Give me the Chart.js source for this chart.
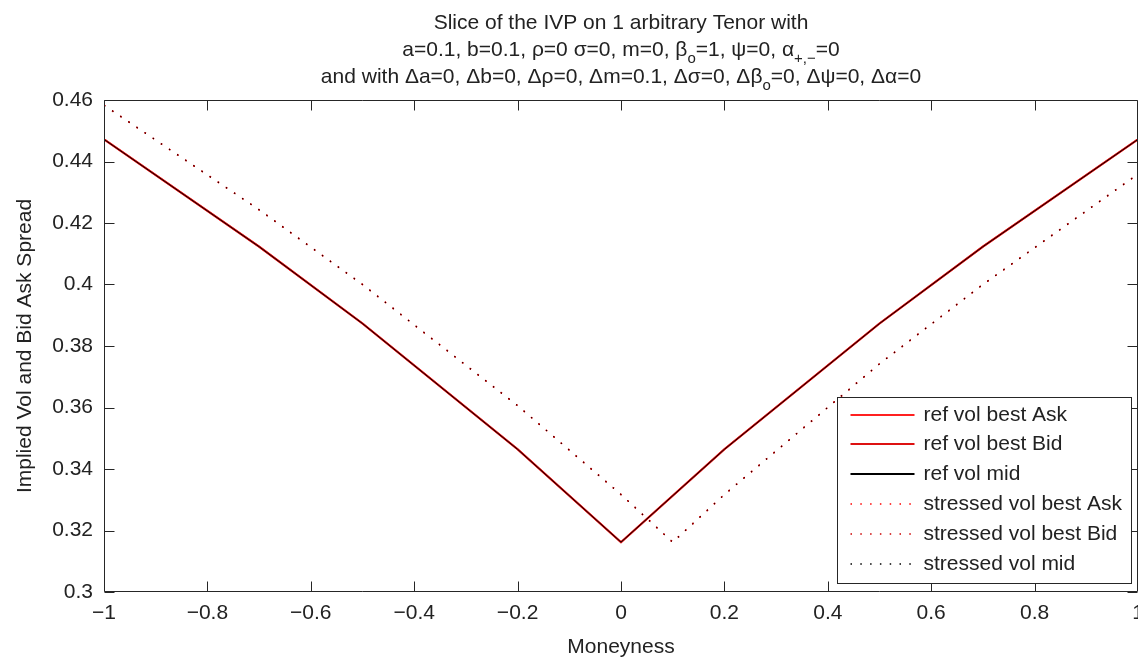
<!DOCTYPE html>
<html>
<head>
<meta charset="utf-8">
<title>Slice of the IVP</title>
<script src="https://cdn.jsdelivr.net/npm/chart.js@4.4.1/dist/chart.umd.min.js"></script>
<style>
  html, body { margin: 0; padding: 0; background: #fff; }
  #wrap { width: 1138px; height: 661px; }
</style>
</head>
<body>
<div id="wrap"><canvas id="ivpChart" width="1138" height="661"></canvas></div>
<script>
  // Data
  const refMoneyness = [-1, -0.7, -0.5, -0.2, 0, 0.2, 0.5, 0.7, 1];
  const refAsk = [0.4472, 0.4123, 0.3873, 0.3464, 0.3162, 0.3464, 0.3873, 0.4123, 0.4472];
  const refBid = [0.4472, 0.4123, 0.3873, 0.3464, 0.3162, 0.3464, 0.3873, 0.4123, 0.4472];
  const refMid = [0.4472, 0.4123, 0.3873, 0.3464, 0.3162, 0.3464, 0.3873, 0.4123, 0.4472];

  const stressedMoneyness = [-1, -0.7, -0.5, -0.2, 0, 0.1, 0.2, 0.5, 0.7, 1];
  const stressedAsk = [0.4583, 0.4243, 0.4000, 0.3606, 0.3317, 0.3162, 0.3317, 0.3742, 0.4000, 0.4359];
  const stressedBid = [0.4583, 0.4243, 0.4000, 0.3606, 0.3317, 0.3162, 0.3317, 0.3742, 0.4000, 0.4359];
  const stressedMid = [0.4583, 0.4243, 0.4000, 0.3606, 0.3317, 0.3162, 0.3317, 0.3742, 0.4000, 0.4359];

  const xTickValues = [-1, -0.8, -0.6, -0.4, -0.2, 0, 0.2, 0.4, 0.6, 0.8, 1];
  const xTickLabels = ['\u22121', '\u22120.8', '\u22120.6', '\u22120.4', '\u22120.2', '0', '0.2', '0.4', '0.6', '0.8', '1'];
  const yTickValues = [0.3, 0.32, 0.34, 0.36, 0.38, 0.4, 0.42, 0.44, 0.46];
  const yTickLabels = ['0.3', '0.32', '0.34', '0.36', '0.38', '0.4', '0.42', '0.44', '0.46'];

  const FONT = '"Liberation Sans", Arial, Helvetica, sans-serif';
  const INK = '#222';

  // title lines, with subscript parts
  const titleLines = [
    [{ t: 'Slice of the IVP on 1 arbitrary Tenor with' }],
    [{ t: 'a=0.1, b=0.1, \u03c1=0 \u03c3=0, m=0, \u03b2' }, { t: 'o', sub: true },
     { t: '=1, \u03c8=0, \u03b1' }, { t: '+,\u2212', sub: true }, { t: '=0' }],
    [{ t: 'and with \u0394a=0, \u0394b=0, \u0394\u03c1=0, \u0394m=0.1, \u0394\u03c3=0, \u0394\u03b2' }, { t: 'o', sub: true },
     { t: '=0, \u0394\u03c8=0, \u0394\u03b1=0' }]
  ];

  const pts = (xs, ys) => xs.map((x, i) => ({ x: x, y: ys[i] }));

  const titlePlugin = {
    id: 'richTitle',
    afterDraw(chart) {
      const ctx = chart.ctx;
      const cx = (chart.chartArea.left + chart.chartArea.right) / 2;
      const baselines = [29, 56, 83];
      ctx.save();
      ctx.fillStyle = INK;
      ctx.textBaseline = 'alphabetic';
      titleLines.forEach((parts, li) => {
        let w = 0;
        parts.forEach(p => {
          ctx.font = (p.sub ? '15px ' : '21px ') + FONT;
          w += ctx.measureText(p.t).width;
        });
        let x = cx - w / 2;
        parts.forEach(p => {
          ctx.font = (p.sub ? '15px ' : '21px ') + FONT;
          ctx.textAlign = 'left';
          ctx.fillText(p.t, x, baselines[li] + (p.sub ? 7 : 0));
          x += ctx.measureText(p.t).width;
        });
      });
      ctx.restore();
    }
  };

  // box round the axes, ticks pointing inward on all four sides
  const framePlugin = {
    id: 'frame',
    afterDatasetsDraw(chart) {
      const { ctx, chartArea: a, scales } = chart;
      const L = Math.round(a.left) + 0.5, R = Math.round(a.right) - 0.5;
      const T = Math.round(a.top) + 0.5, B = Math.round(a.bottom) - 0.5;
      const len = 10;
      ctx.save();
      ctx.strokeStyle = '#262626';
      ctx.lineWidth = 1;
      ctx.beginPath();
      ctx.rect(L, T, R - L, B - T);
      scales.x.ticks.forEach(t => {
        const px = Math.round(scales.x.getPixelForValue(t.value)) + 0.5;
        ctx.moveTo(px, B); ctx.lineTo(px, B - len);
        ctx.moveTo(px, T); ctx.lineTo(px, T + len);
      });
      scales.y.ticks.forEach(t => {
        const py = Math.round(scales.y.getPixelForValue(t.value)) + 0.5;
        ctx.moveTo(L, py); ctx.lineTo(L + len, py);
        ctx.moveTo(R, py); ctx.lineTo(R - len, py);
      });
      ctx.stroke();
      ctx.restore();
    }
  };

  // legend box in the lower right corner of the axes
  const legendPlugin = {
    id: 'boxLegend',
    afterDraw(chart) {
      const { ctx, chartArea: a } = chart;
      const bx = Math.round(a.right) - 301 + 0.5, by = Math.round(a.bottom) - 195 + 0.5;
      const bw = 294, bh = 186;
      ctx.save();
      ctx.fillStyle = '#fff';
      ctx.fillRect(bx, by, bw, bh);
      ctx.strokeStyle = '#262626';
      ctx.lineWidth = 1;
      ctx.strokeRect(bx, by, bw, bh);
      ctx.font = '21px ' + FONT;
      ctx.textBaseline = 'middle';
      ctx.textAlign = 'left';
      chart.data.datasets.forEach((ds, i) => {
        const y = Math.round(by + 17 + i * 29.8);
        ctx.beginPath();
        ctx.strokeStyle = ds.borderColor;
        ctx.lineWidth = ds.borderDash ? 1.5 : 2;
        ctx.setLineDash(ds.borderDash || []);
        ctx.moveTo(bx + 13, y);
        ctx.lineTo(bx + 77, y);
        ctx.stroke();
        ctx.setLineDash([]);
        ctx.fillStyle = INK;
        ctx.fillText(ds.label, bx + 86, y);
      });
      ctx.restore();
    }
  };

  const dots = [1.5, 8.3];

  new Chart(document.getElementById('ivpChart'), {
    type: 'line',
    data: {
      datasets: [
        { label: 'ref vol best Ask', data: pts(refMoneyness, refAsk), borderColor: '#ff2020', borderWidth: 2, order: 6 },
        { label: 'ref vol best Bid', data: pts(refMoneyness, refBid), borderColor: '#dd1111', borderWidth: 2, order: 4 },
        { label: 'ref vol mid', data: pts(refMoneyness, refMid), borderColor: '#000000', borderWidth: 1, order: 2 },
        { label: 'stressed vol best Ask', data: pts(stressedMoneyness, stressedAsk), borderColor: '#ff0000', borderWidth: 1.6, borderDash: dots, order: 5 },
        { label: 'stressed vol best Bid', data: pts(stressedMoneyness, stressedBid), borderColor: '#cc0000', borderWidth: 1.6, borderDash: dots, order: 3 },
        { label: 'stressed vol mid', data: pts(stressedMoneyness, stressedMid), borderColor: '#000000', borderWidth: 1, borderDash: dots, order: 1 }
      ]
    },
    options: {
      responsive: false,
      devicePixelRatio: 1,
      animation: false,
      layout: { padding: { top: 100, left: 0, right: -1, bottom: 0 } },
      elements: { point: { radius: 0 }, line: { tension: 0, fill: false } },
      plugins: { legend: { display: false }, tooltip: { enabled: false }, title: { display: false } },
      scales: {
        x: {
          type: 'linear', min: -1, max: 1,
          afterBuildTicks: s => { s.ticks = xTickValues.map(v => ({ value: v })); },
          afterFit: s => { s.height = 69; s.paddingLeft = 0; s.paddingRight = 0; },
          ticks: { autoSkip: false, maxRotation: 0, padding: 9, color: INK, font: { family: FONT, size: 21 },
                   callback: (v, i) => xTickLabels[i] },
          grid: { display: false, drawTicks: false },
          border: { display: false },
          title: { display: true, text: 'Moneyness', color: INK, font: { family: FONT, size: 21 }, padding: { top: 0, bottom: 1 } }
        },
        y: {
          type: 'linear', min: 0.3, max: 0.46,
          afterBuildTicks: s => { s.ticks = yTickValues.map(v => ({ value: v })); },
          afterFit: s => { s.width = 104; s.paddingTop = 0; s.paddingBottom = 0; },
          ticks: { autoSkip: false, padding: 11, color: INK, font: { family: FONT, size: 21 },
                   callback: (v, i) => yTickLabels[i] },
          grid: { display: false, drawTicks: false },
          border: { display: false },
          title: { display: true, text: 'Implied Vol and Bid Ask Spread', color: INK, font: { family: FONT, size: 21 }, padding: { top: 13, bottom: 0 } }
        }
      }
    },
    plugins: [framePlugin, titlePlugin, legendPlugin]
  });
</script>
</body>
</html>
